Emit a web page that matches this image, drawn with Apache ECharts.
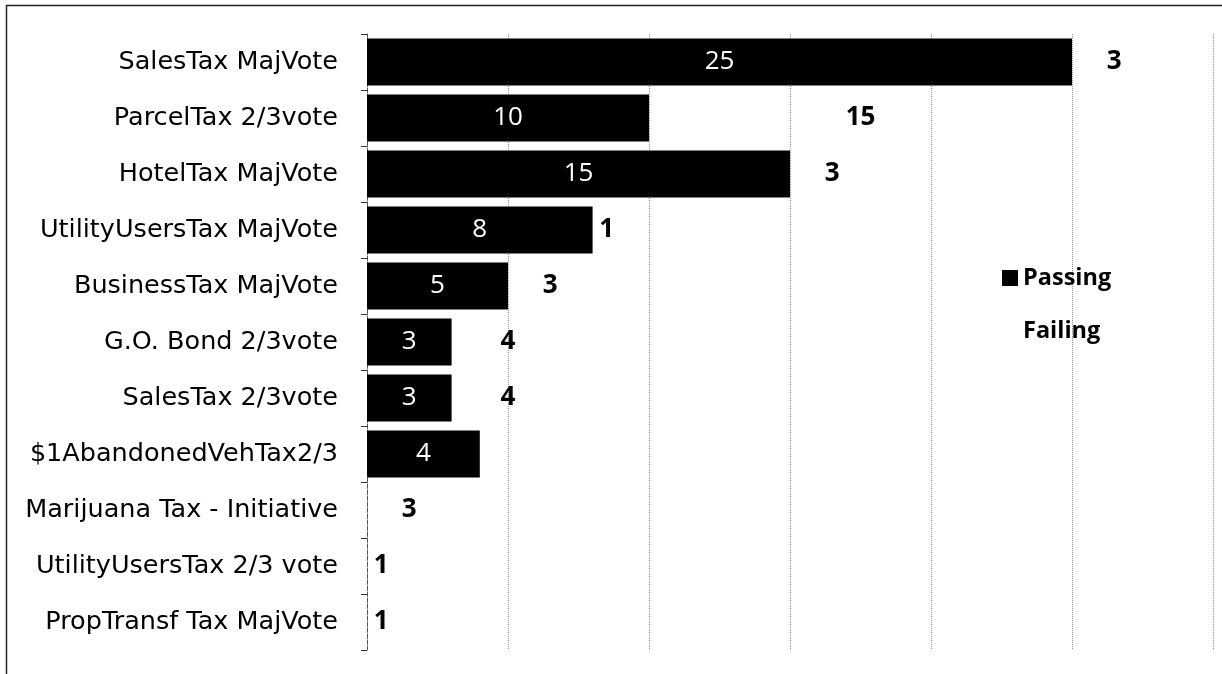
<!DOCTYPE html>
<html>
<head>
<meta charset="utf-8">
<script src="https://cdn.jsdelivr.net/npm/echarts@6/dist/echarts.min.js"></script>
<style>
  html, body { margin: 0; padding: 0; background: #fff; }
  #chart { width: 1222px; height: 674px; }
</style>
</head>
<body>
<div id="chart"></div>
<script>
// Local tax measures: counts of passing and failing measures by type
const categories = [
  'SalesTax MajVote',
  'ParcelTax 2/3vote',
  'HotelTax MajVote',
  'UtilityUsersTax MajVote',
  'BusinessTax MajVote',
  'G.O. Bond 2/3vote',
  'SalesTax 2/3vote',
  '$1AbandonedVehTax2/3',
  'Marijuana Tax - Initiative',
  'UtilityUsersTax 2/3 vote',
  'PropTransf Tax MajVote'
];
const passing = [25, 10, 15, 8, 5, 3, 3, 4, 0, 0, 0];
const failing = [3, 15, 3, 1, 3, 4, 4, 0, 3, 1, 1];
const seriesNames = ['Passing', 'Failing'];

const AXIS_FONT = '"DejaVu Sans", sans-serif';
const VALUE_FONT = '"Open Sans", sans-serif';
const hideZero = p => (p.value ? String(p.value) : '');

const chart = echarts.init(document.getElementById('chart'), null, { renderer: 'canvas' });
chart.setOption({
  backgroundColor: '#fff',
  animation: false,
  grid: { left: 367, right: 9, top: 34, bottom: 24, containLabel: false },
  xAxis: {
    type: 'value',
    min: 0,
    max: 30,
    interval: 5,
    axisLine: { show: false },
    axisTick: { show: false },
    axisLabel: { show: false },
    splitLine: { show: true, lineStyle: { color: '#8a8a8a', type: 'dotted', width: 1 } }
  },
  yAxis: {
    type: 'category',
    inverse: true,
    data: categories,
    axisLine: { show: true, lineStyle: { color: '#555', type: 'dashed', width: 1 } },
    axisTick: { show: true, length: 6, lineStyle: { color: '#333' } },
    axisLabel: { color: '#000', fontSize: 25.5, fontFamily: AXIS_FONT, margin: 29 }
  },
  legend: {
    orient: 'vertical',
    left: 997,
    top: 261,
    itemWidth: 16,
    itemHeight: 16,
    itemGap: 29,
    icon: 'rect',
    data: seriesNames,
    textStyle: { color: '#000', fontSize: 23.5, fontWeight: 'bold', fontFamily: VALUE_FONT, lineHeight: 24 }
  },
  series: [
    {
      name: seriesNames[0],
      type: 'bar',
      stack: 'total',
      data: passing,
      barCategoryGap: '16%',
      itemStyle: { color: '#000' },
      label: {
        show: true, position: 'inside', color: '#fff',
        fontSize: 26, fontFamily: VALUE_FONT, formatter: hideZero
      }
    },
    {
      name: seriesNames[1],
      type: 'bar',
      stack: 'total',
      data: failing,
      barCategoryGap: '16%',
      itemStyle: { color: 'rgba(255,255,255,0)' },
      label: {
        show: true, position: 'inside', color: '#000',
        fontSize: 26, fontWeight: 'bold', fontFamily: VALUE_FONT, formatter: hideZero
      }
    }
  ],
  graphic: [
    {
      type: 'rect',
      shape: { x: 6.5, y: 5.5, width: 1240, height: 700 },
      style: { fill: 'none', stroke: '#222', lineWidth: 1.5 },
      silent: true
    }
  ]
});
</script>
</body>
</html>
